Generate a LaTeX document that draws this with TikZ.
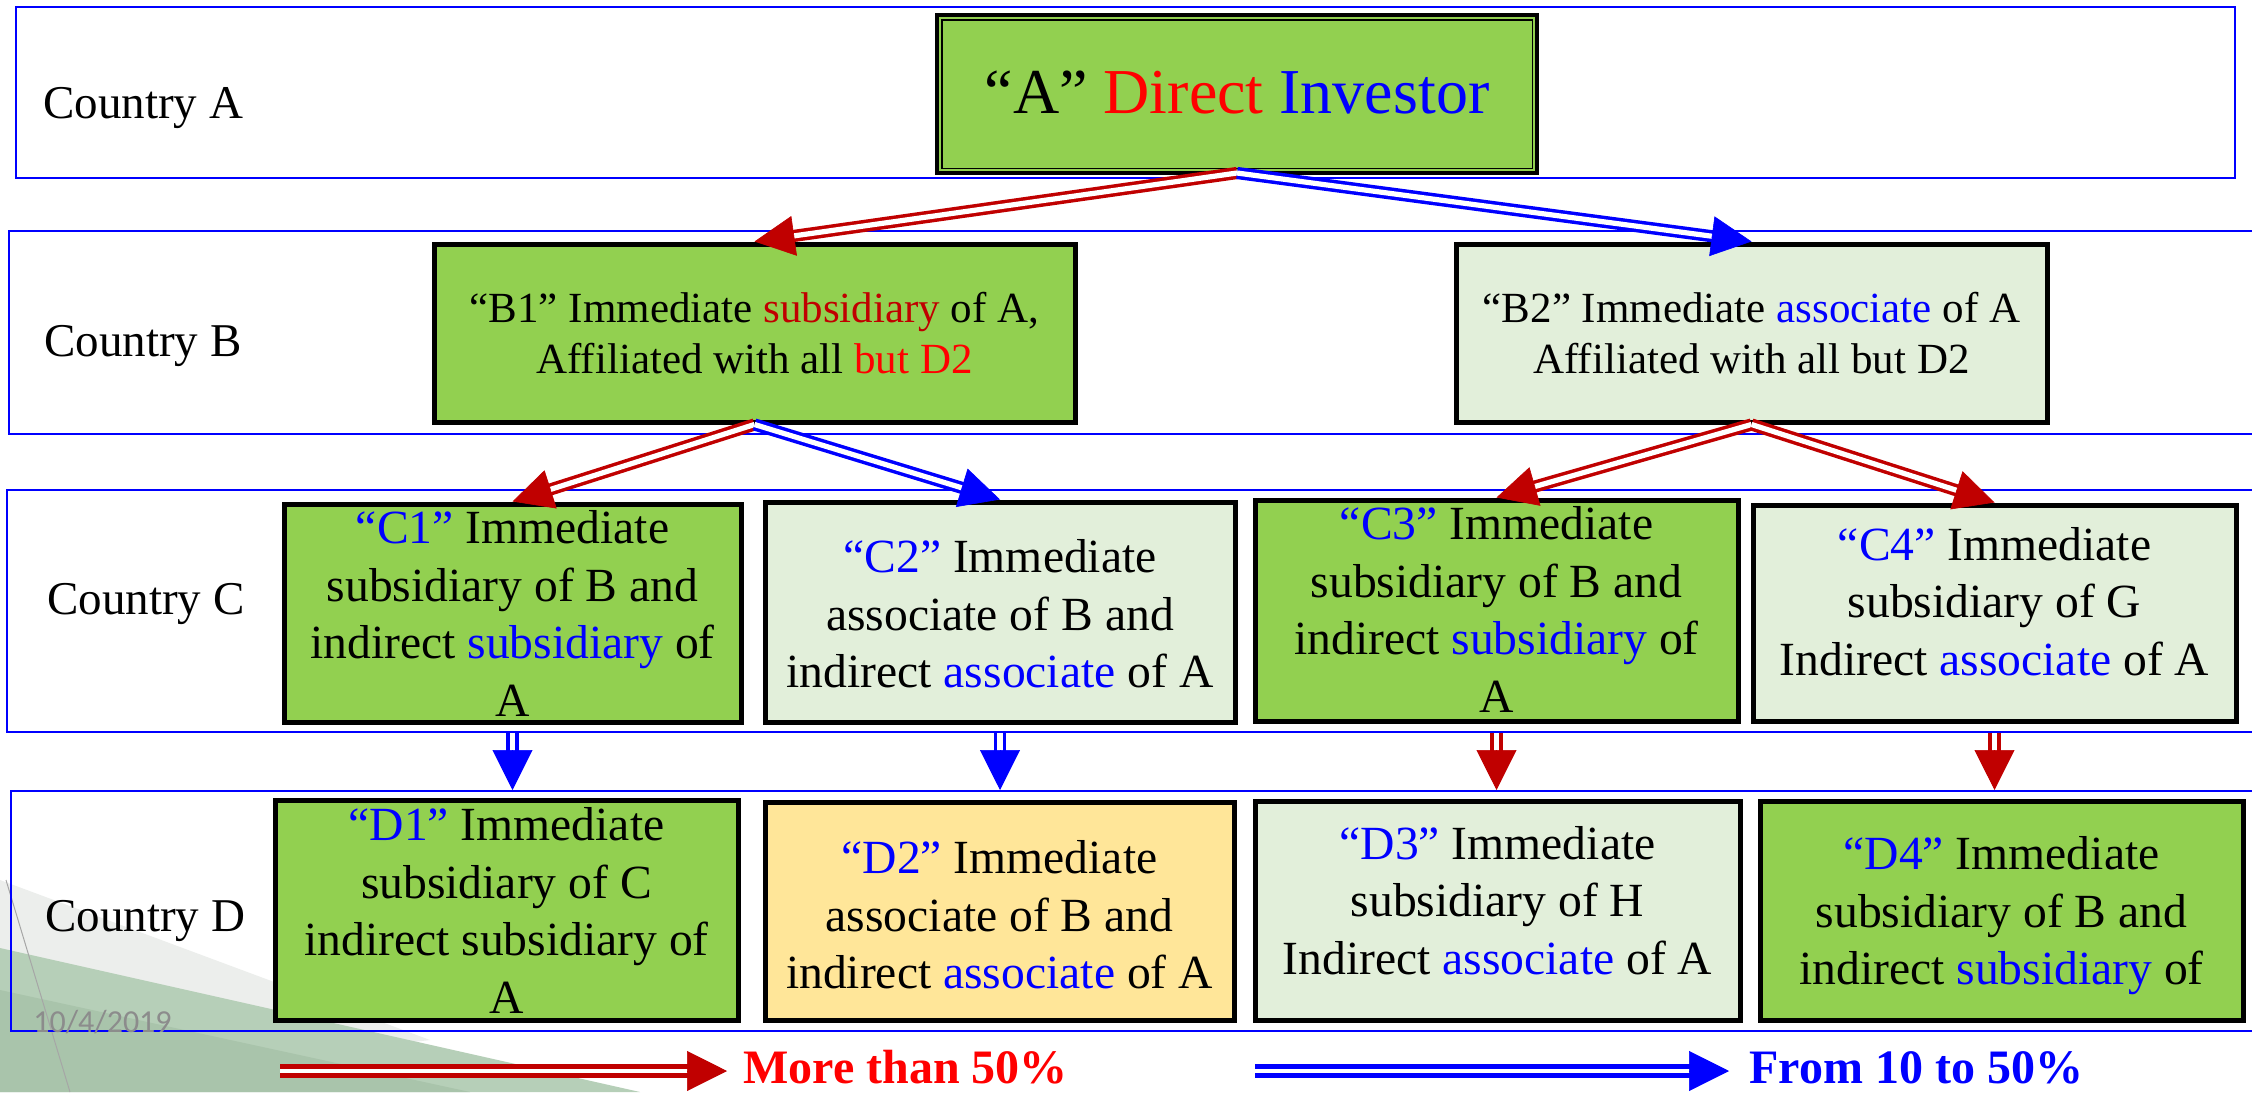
\documentclass[tikz,border=0pt]{standalone}
\usepackage{fontspec}
\setmainfont{Liberation Serif}
\newfontfamily\datefont{Carlito}
\usetikzlibrary{fit,calc,arrows.meta}
\definecolor{grn}{HTML}{92D050}
\definecolor{lgrn}{HTML}{E2EFDA}
\definecolor{ylw}{HTML}{FFE699}
\definecolor{dred}{HTML}{C00000}
\definecolor{bred}{HTML}{FF0000}
\definecolor{bblue}{HTML}{0000FF}
\definecolor{bgA}{HTML}{B6CFB8}
\definecolor{bgB}{HTML}{A9C4AB}
\definecolor{bgC}{HTML}{ECEEEC}
\newcommand\myarrow[4]{\draw[#1] (#3) -- (#4); \draw[#2] ($(#4)!20pt!(#3)$) -- (#4);}
\begin{document}
\begin{tikzpicture}[x=0.5pt,y=-0.5pt,
  band/.style={draw=bblue,line width=1pt,inner sep=0pt},
  boxbase/.style={draw=black,line width=2.5pt,inner sep=0pt},
  gbox/.style={boxbase,fill=grn},
  lbox/.style={boxbase,fill=lgrn},
  ybox/.style={boxbase,fill=ylw},
  ctext/.style={align=center,inner sep=0pt,font=\fontsize{23.8}{28.75}\selectfont},
  btext/.style={align=center,inner sep=0pt,font=\fontsize{21.5}{25.5}\selectfont},
  country/.style={anchor=base west,inner sep=0pt,font=\fontsize{23.5}{28}\selectfont},
  rshaft/.style={draw=dred,double=white,line width=1.75pt,double distance=2.6pt,shorten >=18pt},
  bshaft/.style={rshaft,draw=bblue},
  rlshaft/.style={rshaft,line width=2.5pt,double distance=2pt},
  blshaft/.style={rlshaft,draw=bblue},
  rtip/.style={draw=dred,line width=0.3pt,-{Triangle[length=20pt,width=20pt]}},
  btip/.style={rtip,draw=bblue},
  legtext/.style={anchor=base west,inner sep=0pt,font=\bfseries\fontsize{24}{28}\selectfont},
]
\useasboundingbox (0,0) rectangle (2252,1092);
\clip (0,0) rectangle (2252,1092);
\fill[white] (0,0) rectangle (2252,1092);

% background decoration (slide template)
\fill[bgC] (0,880) -- (430,1040) -- (0,1092) -- cycle;
\fill[bgA] (0,948) -- (640,1092) -- (0,1092) -- cycle;
\fill[bgB] (0,990) -- (470,1092) -- (0,1092) -- cycle;
\draw[black!35,line width=0.5pt] (6,880) -- (70,1092);

% country bands
\node[band,fit={(16,7) (2235,178)}] (bandA) {};
\node[band,fit={(9,231) (2275,434)}] (bandB) {};
\node[band,fit={(7,490) (2275,732)}] (bandC) {};
\node[band,fit={(11,791) (2275,1031)}] (bandD) {};
\node[country] (cA) at (43,118) {Country A};
\node[country] (cB) at (44,356) {Country B};
\node[country] (cC) at (47,614) {Country C};
\node[country] (cD) at (45,931) {Country D};

% A box with double border
\node[fit={(937,15) (1537,173)},draw=black,fill=grn,line width=1.8pt,inner sep=0pt,outer sep=0pt] (A) {};
\draw[line width=0.7pt] ([shift={(2.4pt,-2.4pt)}]A.north west) rectangle ([shift={(-2.4pt,2.4pt)}]A.south east);
\node[anchor=base,inner sep=0pt,font=\fontsize{32}{38}\selectfont] (At) at (1237,113) {“A” \textcolor{bred}{Direct} \textcolor{bblue}{Investor}};

% B boxes
\node[gbox,fit={(434,244) (1075,422)}] (B1) {};
\node[lbox,fit={(1456,244) (2047,422)}] (B2) {};
\node[btext] (B1t) at (754.5,337.3) {\strut“B1” Immediate \textcolor{dred}{subsidiary} of A,\\\strut Affiliated with all \textcolor{bred}{but D2}};
\node[btext] (B2t) at (1751.5,337.3) {\strut“B2” Immediate \textcolor{bblue}{associate} of A\\\strut Affiliated with all but D2};

% C boxes
\node[gbox,fit={(284,504) (741,722)}] (C1) {};
\node[lbox,fit={(765,502) (1235,722)}] (C2) {};
\node[gbox,fit={(1255,500) (1738,721)}] (C3) {};
\node[lbox,fit={(1753,505) (2236,721)}] (C4) {};
\node[ctext] (C1t) at (512.5,618.5) {\strut\textcolor{bblue}{“C1”} Immediate\\\strut subsidiary of B and\\\strut indirect \textcolor{bblue}{subsidiary} of\\\strut A};
\node[ctext] (C2t) at (1000,618.5) {\strut\textcolor{bblue}{“C2”} Immediate\\\strut associate of B and\\\strut indirect \textcolor{bblue}{associate} of A};
\node[ctext] (C3t) at (1496.5,614.5) {\strut\textcolor{bblue}{“C3”} Immediate\\\strut subsidiary of B and\\\strut indirect \textcolor{bblue}{subsidiary} of\\\strut A};
\node[ctext] (C4t) at (1994.5,606.3) {\strut\textcolor{bblue}{“C4”} Immediate\\\strut subsidiary of G\\\strut Indirect \textcolor{bblue}{associate} of A};

% D boxes
\node[gbox,fit={(275,800) (738,1020)}] (D1) {};
\node[ybox,fit={(765,802) (1234,1020)}] (D2) {};
\node[lbox,fit={(1255,801) (1740,1020)}] (D3) {};
\node[gbox,fit={(1760,801) (2243,1020)}] (D4) {};
\node[ctext] (D1t) at (506.5,915.5) {\strut\textcolor{bblue}{“D1”} Immediate\\\strut subsidiary of C\\\strut indirect subsidiary of\\\strut A};
\node[ctext] (D2t) at (999.5,919.5) {\strut\textcolor{bblue}{“D2”} Immediate\\\strut associate of B and\\\strut indirect \textcolor{bblue}{associate} of A};
\node[ctext] (D3t) at (1497.5,905) {\strut\textcolor{bblue}{“D3”} Immediate\\\strut subsidiary of H\\\strut Indirect \textcolor{bblue}{associate} of A};
\node[ctext] (D4t) at (2001.5,915.5) {\strut\textcolor{bblue}{“D4”} Immediate\\\strut subsidiary of B and\\\strut indirect \textcolor{bblue}{subsidiary} of};

% date
\node[anchor=base west,inner sep=0pt,font=\datefont\fontsize{16}{19}\selectfont,text=black!45] (date) at (33,1032) {10/4/2019};

% arrows A -> B
\myarrow{rshaft}{rtip}{A.south}{B1.north}
\myarrow{bshaft}{btip}{A.south}{B2.north}
% arrows B -> C
\myarrow{rshaft}{rtip}{B1.south}{C1.north}
\myarrow{bshaft}{btip}{B1.south}{C2.north}
\myarrow{rshaft}{rtip}{B2.south}{C3.north}
\myarrow{rshaft}{rtip}{B2.south}{C4.north}
% arrows C -> D (between bands)
\coordinate (c1b) at (C1.south |- bandC.south);
\coordinate (d1t) at (C1.south |- bandD.north);
\coordinate (c2b) at (C2.south |- bandC.south);
\coordinate (d2t) at (C2.south |- bandD.north);
\coordinate (c3b) at (C3.south |- bandC.south);
\coordinate (d3t) at (C3.south |- bandD.north);
\coordinate (c4b) at (C4.south |- bandC.south);
\coordinate (d4t) at (C4.south |- bandD.north);
\myarrow{bshaft}{btip}{c1b}{d1t}
\myarrow{bshaft}{btip}{c2b}{d2t}
\myarrow{rshaft}{rtip}{c3b}{d3t}
\myarrow{rshaft}{rtip}{c4b}{d4t}

% legend
\coordinate (lr0) at (280,1071);
\coordinate (lr1) at (727,1071);
\coordinate (lb0) at (1255,1071);
\coordinate (lb1) at (1729,1071);
\myarrow{rlshaft}{rtip}{lr0}{lr1}
\myarrow{blshaft}{btip}{lb0}{lb1}
\node[legtext,text=bred] (lrt) at (743,1083) {More than 50\%};
\node[legtext,text=bblue] (lbt) at (1749,1083) {From 10 to 50\%};
\end{tikzpicture}
\end{document}
